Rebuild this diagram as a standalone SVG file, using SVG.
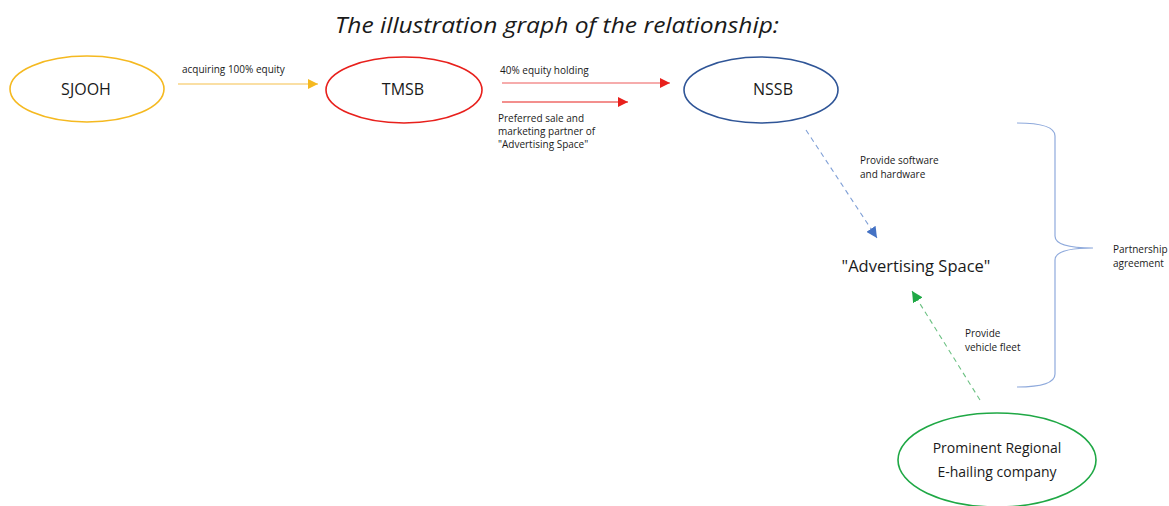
<svg xmlns="http://www.w3.org/2000/svg" width="1169" height="506" viewBox="0 0 1169 506">
<style>
text{font-family:"Open Sans","Liberation Sans",sans-serif;fill:#1a1a1a}
.lbl{font-size:10px}
.node{font-size:16px;text-anchor:middle}
.title{font-size:21px;font-style:italic;text-anchor:middle}
</style>
<defs>
<marker id="mY" viewBox="0 0 10 10" refX="10" refY="5" markerWidth="10" markerHeight="10" markerUnits="userSpaceOnUse" orient="auto"><path d="M0,0L10,5L0,10z" fill="#F5B920"/></marker>
<marker id="mR" viewBox="0 0 10 10" refX="10" refY="5" markerWidth="10" markerHeight="10" markerUnits="userSpaceOnUse" orient="auto"><path d="M0,0L10,5L0,10z" fill="#E8201C"/></marker>
<marker id="mB" viewBox="0 0 10 10" refX="10" refY="5" markerWidth="11" markerHeight="11" markerUnits="userSpaceOnUse" orient="auto"><path d="M0,0L10,5L0,10z" fill="#4472C4"/></marker>
<marker id="mG" viewBox="0 0 10 10" refX="10" refY="5" markerWidth="11" markerHeight="11" markerUnits="userSpaceOnUse" orient="auto"><path d="M0,0L10,5L0,10z" fill="#1FA845"/></marker>
</defs>
<rect width="1169" height="506" fill="#fff"/>
<text class="title" x="557" y="33" textLength="444" lengthAdjust="spacingAndGlyphs">The illustration graph of the relationship:</text>
<g id="SJOOH"><ellipse cx="87" cy="89" rx="77" ry="33" fill="none" stroke="#F5B920" stroke-width="1.6"/><text class="node" x="86" y="95">SJOOH</text></g>
<g id="TMSB"><ellipse cx="404" cy="90" rx="78" ry="33" fill="none" stroke="#E8201C" stroke-width="1.6"/><text class="node" x="403" y="95">TMSB</text></g>
<g id="NSSB"><ellipse cx="761" cy="90" rx="77" ry="33" fill="none" stroke="#2F5597" stroke-width="1.6"/><text class="node" x="773" y="95">NSSB</text></g>
<g id="AdvertisingSpace"><text x="916" y="272" style="font-size:16.5px;text-anchor:middle">"Advertising Space"</text></g>
<g id="EHailing"><ellipse cx="997" cy="460" rx="99" ry="47" fill="none" stroke="#1FA845" stroke-width="1.6"/><text class="node" x="997" y="453" style="font-size:14px">Prominent Regional</text><text class="node" x="997" y="477" style="font-size:14px">E-hailing company</text></g>
<g id="connectors">
<line x1="178" y1="84" x2="318" y2="84" stroke="#F5C04A" stroke-width="1.2" marker-end="url(#mY)"/>
<text class="lbl" x="182" y="73">acquiring 100% equity</text>
<line x1="502" y1="83" x2="670" y2="83" stroke="#EE5A5A" stroke-width="1.2" marker-end="url(#mR)"/>
<text class="lbl" x="500" y="74">40% equity holding</text>
<line x1="502" y1="102" x2="628" y2="102" stroke="#E8201C" stroke-width="1.2" marker-end="url(#mR)"/>
<text class="lbl" x="498" y="122">Preferred sale and</text>
<text class="lbl" x="498" y="135">marketing partner of</text>
<text class="lbl" x="498" y="148">"Advertising Space"</text>
<line x1="806" y1="130" x2="877" y2="238" stroke="#7F9FD6" stroke-width="1.1" stroke-dasharray="5,4" marker-end="url(#mB)"/>
<text class="lbl" x="860" y="164">Provide software</text>
<text class="lbl" x="860" y="178">and hardware</text>
<line x1="980" y1="400" x2="912" y2="291" stroke="#6CC183" stroke-width="1.1" stroke-dasharray="5,4" marker-end="url(#mG)"/>
<text class="lbl" x="965" y="337">Provide</text>
<text class="lbl" x="965" y="351">vehicle fleet</text>
<path d="M1017,123 Q1055,123 1055,136 L1055,236 Q1055,248 1093,248 Q1055,248 1055,260 L1055,374 Q1055,387 1017,387" fill="none" stroke="#8FAADC" stroke-width="1.2"/>
<text class="lbl" x="1113" y="253">Partnership</text>
<text class="lbl" x="1113" y="267">agreement</text>
</g>
</svg>
